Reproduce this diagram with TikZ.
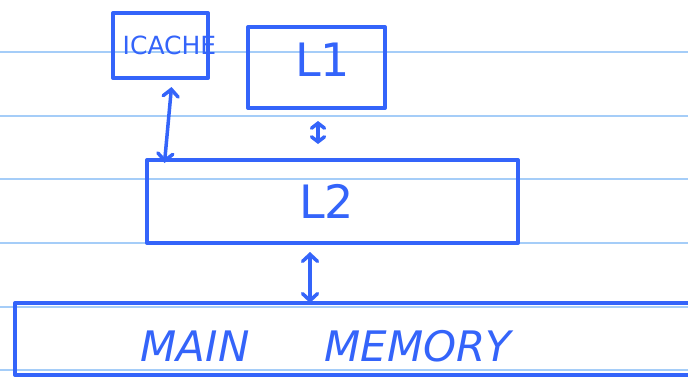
\documentclass[tikz,border=0pt]{standalone}
\usepackage{fontspec}
\setmainfont{DejaVu Sans}
\usetikzlibrary{arrows.meta}
\definecolor{ink}{RGB}{52,100,250}
\definecolor{rule}{RGB}{165,205,248}
\tikzset{
  box/.style={draw=ink, line width=4pt, line cap=round, line join=round, inner sep=0pt, text=ink, font=\fontsize{46}{46}\selectfont},
  arr/.style={draw=ink, line width=3.5pt, line cap=round, {Straight Barb[length=7pt,width=15pt,line cap=round]}-{Straight Barb[length=7pt,width=15pt,line cap=round]}},
  smallarr/.style={draw=ink, line width=3.5pt, line cap=round, {Straight Barb[length=5pt,width=13pt,line cap=round]}-{Straight Barb[length=5pt,width=13pt,line cap=round]}},
  ruling/.style={draw=rule, line width=1.8pt}
}
\begin{document}
\begin{tikzpicture}[x=1pt,y=-1pt]
\clip (0,0) rectangle (688,380);
\fill[white] (0,0) rectangle (688,380);
\foreach \yy in {52,116,179,243,307,370} \draw[ruling] (0,\yy) -- (688,\yy);
\node[box, minimum width=95pt, minimum height=65pt] (icache) at (160.5,45.5) {};
\node[text=ink, inner sep=0pt, font=\fontsize{25}{25}\selectfont] (ictext) at ([xshift=9pt]icache.center) {ICACHE};
\node[box, minimum width=137pt, minimum height=81pt] (l1) at (316.5,67.5) {};
\node[text=ink, inner sep=0pt, font=\fontsize{46}{46}\selectfont] (l1text) at ([xshift=6pt,yshift=8pt]l1.center) {L1};
\node[box, minimum width=371pt, minimum height=83pt] (l2) at (332.5,201.5) {};
\node[text=ink, inner sep=0pt, font=\fontsize{46}{46}\selectfont] (l2text) at ([xshift=-6pt]l2.center) {L2};
\node[box, minimum width=690pt, minimum height=72pt] (mem) at (360,339) {};
\node[text=ink, font=\fontsize{42}{42}\selectfont\itshape, inner sep=0pt] (memtext) at ([xshift=-34pt,yshift=-7pt]mem.center) {MAIN\hspace{75pt}MEMORY};
\draw[arr] ([xshift=11pt,yshift=-7pt]icache.south) -- ([xshift=-168pt,yshift=-5pt]l2.north);
\draw[smallarr] ([xshift=1.5pt,yshift=-11pt]l1.south) -- ([xshift=-14.5pt,yshift=14pt]l2.north);
\draw[arr] ([xshift=-22.5pt,yshift=-7pt]l2.south) -- ([xshift=-50pt,yshift=-2pt]mem.north);
\end{tikzpicture}
\end{document}
